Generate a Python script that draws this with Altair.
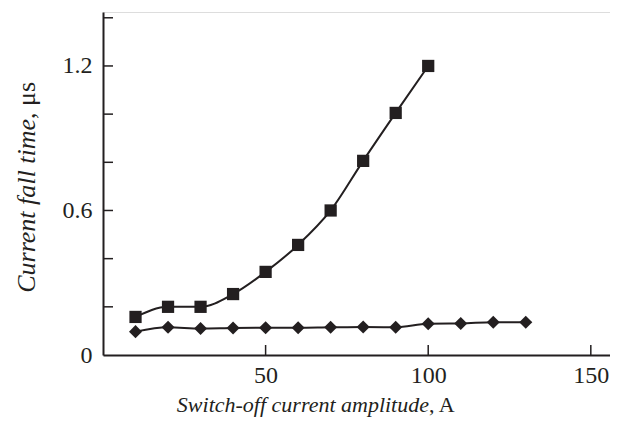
import altair as alt
import pandas as pd

# Data
sq_x = [10, 20, 30, 40, 50, 60, 70, 80, 90, 100]
sq_y = [0.158, 0.20, 0.20, 0.253, 0.345, 0.457, 0.60, 0.806, 1.005, 1.20]
dm_x = [10, 20, 30, 40, 50, 60, 70, 80, 90, 100, 110, 120, 130]
dm_y = [0.097, 0.115, 0.110, 0.112, 0.113, 0.113, 0.115, 0.116, 0.115, 0.13, 0.131, 0.136, 0.136]

y_tick_vals = [0.2, 0.4, 0.6, 0.8, 1.0, 1.2, 1.4]
y_label_vals = [0, 0.6, 1.2]
x_tick_vals = [50, 100, 150]

W, H = 507, 343
X_DOMAIN = [0, 155.9]
Y_DOMAIN = [0, 1.424]
INK = "#231f20"
FONT = "Liberation Serif"

sq = pd.DataFrame({"x": sq_x, "y": sq_y})
dm = pd.DataFrame({"x": dm_x, "y": dm_y})

xs = alt.Scale(domain=X_DOMAIN, nice=False, zero=False)
ys = alt.Scale(domain=Y_DOMAIN, nice=False)

xaxis = alt.Axis(values=x_tick_vals, title=None, grid=False, ticks=False, tickSize=0,
                 labelPadding=8, labelFontSize=24, labelFont=FONT, labelColor=INK,
                 domainColor=INK, domainWidth=2, labelExpr="format(datum.value, 'd')")
yaxis = alt.Axis(values=y_label_vals, title=None, grid=False, ticks=False, tickSize=0,
                 labelPadding=11, labelFontSize=24, labelFont=FONT, labelColor=INK,
                 domainColor=INK, domainWidth=2,
                 labelExpr="datum.value == 0 ? '0' : format(datum.value, '.1f')")


def X(f):
    return alt.X(f, scale=xs, axis=xaxis)


def Y(f):
    return alt.Y(f, scale=ys, axis=yaxis)


line_sq = alt.Chart(sq).mark_line(interpolate="monotone", color=INK, strokeWidth=2).encode(x=X("x:Q"), y=Y("y:Q"))
pts_sq = alt.Chart(sq).mark_point(shape="square", filled=True, size=150, color=INK, opacity=1).encode(x=X("x:Q"), y=Y("y:Q"))
line_dm = alt.Chart(dm).mark_line(interpolate="monotone", color=INK, strokeWidth=2).encode(x=X("x:Q"), y=Y("y:Q"))
pts_dm = alt.Chart(dm).mark_point(shape="diamond", filled=True, size=170, color=INK, opacity=1).encode(x=X("x:Q"), y=Y("y:Q"))

yt = alt.Chart(pd.DataFrame({"v": y_tick_vals})).mark_rule(color=INK, strokeWidth=1.5).encode(
    y=Y("v:Q"), x=alt.value(0), x2=alt.value(10))
xt = alt.Chart(pd.DataFrame({"v": x_tick_vals})).mark_rule(color=INK, strokeWidth=1.5).encode(
    x=X("v:Q"), y=alt.value(H), y2=alt.value(H - 10))

lbl = pd.DataFrame({"a": [0]})
TX, TY = 326, H + 57
xt1 = alt.Chart(lbl).mark_text(text="Switch-off current amplitude", font=FONT, fontSize=22,
                               fontStyle="italic", align="right", baseline="alphabetic", color=INK).encode(
    x=alt.value(TX), y=alt.value(TY))
xt2 = alt.Chart(lbl).mark_text(text=", A", font=FONT, fontSize=22, align="left",
                               baseline="alphabetic", color=INK).encode(
    x=alt.value(TX), y=alt.value(TY))
YX, YY = -68, 107
yt1 = alt.Chart(lbl).mark_text(text="Current fall time", font=FONT, fontSize=26, angle=270,
                               fontStyle="italic", align="right", baseline="alphabetic", color=INK).encode(
    x=alt.value(YX), y=alt.value(YY))
yt2 = alt.Chart(lbl).mark_text(text=", μs", font=FONT, fontSize=26, angle=270,
                               align="left", baseline="alphabetic", color=INK).encode(
    x=alt.value(YX), y=alt.value(YY))

chart = alt.layer(line_sq, line_dm, pts_sq, pts_dm, yt, xt, xt1, xt2, yt1, yt2).properties(
    width=W, height=H,
    autosize=alt.AutoSizeParams(type="none"),
    padding={"left": 95, "top": 4, "right": 0, "bottom": 62},
).configure_view(stroke=None).configure(background="white")

chart.save("out.html", embed_options={"renderer": "svg", "actions": False})
